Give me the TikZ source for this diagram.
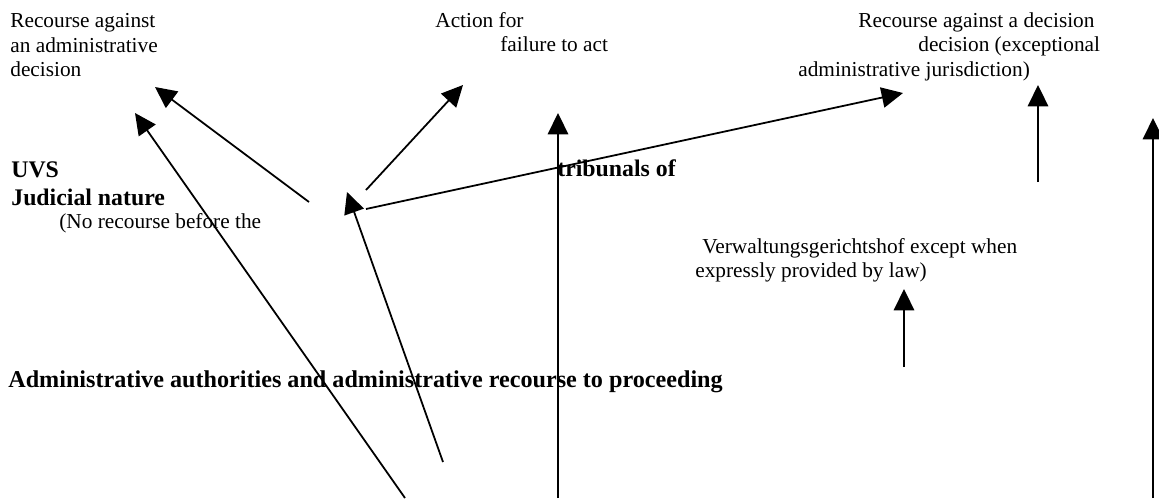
\documentclass[tikz,border=0pt]{standalone}
\usepackage{fontspec}
\setmainfont{Liberation Serif}
\usetikzlibrary{arrows.meta}
\tikzset{
  txt/.style={anchor=base west, inner sep=0pt, font=\fontsize{12}{14}\selectfont},
  btxt/.style={anchor=base west, inner sep=0pt, font=\fontsize{13.4}{15}\selectfont\bfseries},
  arr/.style={line width=1pt, -{Triangle[length=12pt,width=11.5pt]}}
}
\begin{document}
\begin{tikzpicture}[x=0.563pt,y=-0.563pt]
\useasboundingbox (0,0) rectangle (1159,498);
% texts
\node[txt] (r1) at (10,27) {Recourse against};
\node[txt] (r2) at (10,52) {an administrative};
\node[txt] (r3) at (10,76) {decision};
\node[txt] (a1) at (435,27) {Action for};
\node[txt] (a2) at (500,51) {failure to act};
\node[txt] (d1) at (858,27) {Recourse against a decision};
\node[txt] (d2) at (918,51) {decision (exceptional};
\node[txt] (d3) at (798,76) {administrative jurisdiction)};
\node[btxt] (uvs) at (11,177) {UVS};
\node[btxt] (jud) at (11,205) {Judicial nature};
\node[txt] (nor) at (59,228) {(No recourse before the};
\node[btxt] (tri) at (557,176) {tribunals of};
\node[txt] (v1) at (702,253) {Verwaltungsgerichtshof except when};
\node[txt] (v2) at (695,277) {expressly provided by law)};
\node[btxt, font=\fontsize{13.6}{15}\selectfont\bfseries] (adm) at (8,387) {Administrative authorities and administrative recourse to proceeding};
% connector ends
\coordinate (t1) at (309,202); \coordinate (h1) at (155,87);
\coordinate (t2) at (405,498); \coordinate (h2) at (135,113);
\coordinate (t3) at (366,190); \coordinate (h3) at (463,85);
\coordinate (t4) at (443,462); \coordinate (h4) at (347,192);
\coordinate (t5) at (366,209); \coordinate (h5) at (903,93);
\coordinate (t6) at (558,498); \coordinate (h6) at (558,113);
\coordinate (t7) at (1038,182); \coordinate (h7) at (1038,85);
\coordinate (t8) at (1153,498); \coordinate (h8) at (1153,118);
\coordinate (t9) at (904,367); \coordinate (h9) at (904,289);
\foreach \i in {1,...,9} { \draw[arr] (t\i) -- (h\i); }
\end{tikzpicture}
\end{document}
